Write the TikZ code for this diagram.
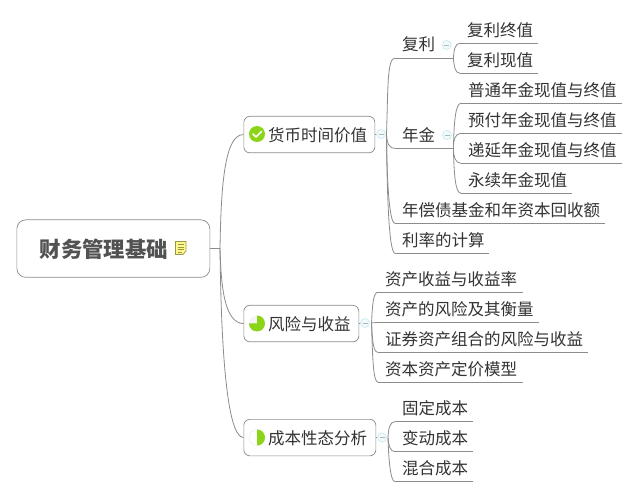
\documentclass[tikz,border=0pt]{standalone}
\usepackage{fontspec}
\setmainfont{Noto Sans CJK SC}
\definecolor{linec}{HTML}{8C8C8C}
\definecolor{txt}{HTML}{333333}
\definecolor{hubc}{HTML}{CDEAF3}
\definecolor{grn}{HTML}{8CD417}
\newcommand{\sepx}{7}
\newcommand{\leaf}[5]{%
  \pgfmathsetmacro\lw{#4-#2-2*\sepx}%
  \node[leaf,text width=\lw pt,anchor=south west] (#1) at (#2,#3) {#5};
  \draw[under] (#1.south west) -- (#1.south east);}
\newcommand{\hubm}[1]{\draw[hub] (#1) circle (4.5);
  \draw[hubm] ([xshift=-2.5pt]#1) -- ([xshift=2.5pt]#1);}
\begin{document}
\begin{tikzpicture}[x=1pt,y=-1pt,
  leaf/.style={inner xsep=7pt,inner ysep=0pt,align=left,text=txt,
    font=\fontsize{16.5}{18}\selectfont,text height=14pt,text depth=7pt},
  under/.style={draw=linec,line width=0.8pt},
  conn/.style={draw=linec,line width=0.8pt},
  hub/.style={draw=hubc,line width=0.7pt,fill=hubc!25},
  hubm/.style={draw=hubc!80!black,line width=0.5pt},
  topic/.style={draw=linec,line width=0.7pt,rounded corners=6pt,inner sep=0pt,anchor=north west},
  topict/.style={anchor=west,inner sep=0pt,text=txt,font=\fontsize{16.5}{18}\selectfont},
  rootn/.style={draw=linec,line width=0.7pt,rounded corners=9pt,inner sep=0pt,anchor=north west}]
\useasboundingbox (0,0) rectangle (638,497);
\fill[white] (0,0) rectangle (638,497);

% root
\node[rootn,minimum width=193pt,minimum height=57.5pt] (root) at (16.5,219.5) {};
\node[anchor=west,inner sep=0pt,text=black!68,font=\fontsize{21.4}{24}\selectfont\bfseries] (roott) at (39.5,249) {财务管理基础};
\coordinate (rj) at (220,248);
\draw[conn] (root.east |- rj) -- (rj);

% main topics
\node[topic,minimum width=131pt,minimum height=36.5pt] (t1) at (243.5,116) {};
\node[topic,minimum width=115pt,minimum height=36.5pt] (t2) at (243.5,305) {};
\node[topic,minimum width=132pt,minimum height=36.5pt] (t3) at (243.5,419) {};
\node[topict] (t1t) at (268,135) {货币时间价值};
\node[topict] (t2t) at (268,324.5) {风险与收益};
\node[topict] (t3t) at (268,438.5) {成本性态分析};

\draw[conn] (rj) .. controls (221,190) and (224,134) .. (t1.west);
\draw[conn] (rj) .. controls (221,285) and (224,323) .. (t2.west);
\draw[conn] (rj) .. controls (221,340) and (226,437) .. (t3.west);

% icons
\fill[grn] (257,134) circle (8);
\draw[white,line width=1.6pt,line cap=round,line join=round] (253,134) -- (256,137) -- (261.5,131.5);
\fill[black!4] (257,323.5) circle (8);
\fill[grn] (257,323.5) -- (257,315.5) arc[start angle=-90,delta angle=270,radius=8] -- cycle;
\draw[black!8,line width=0.4pt] (257,437.5) circle (8);
\fill[grn] (257,429.5) arc[start angle=-90,delta angle=180,radius=8] -- cycle;
\draw[draw=black!45!yellow,fill=yellow!45,line width=0.7pt] (175.5,241.5) -- (186,241.5) -- (186,251) -- (183,254.5) -- (175.5,254.5) -- cycle;
\draw[black!45!yellow,line width=0.5pt] (177.5,244.5) -- (184,244.5) (177.5,247) -- (184,247) (177.5,249.5) -- (184,249.5) (177.5,252) -- (182,252);

% group 1
\coordinate (h1) at (381,134);
\draw[conn] (t1.east) -- (h1);
\leaf{a}{395}{58}{453}{复利}
\leaf{b}{395}{148.3}{453}{年金}
\leaf{c}{395}{223.3}{605}{年偿债基金和年资本回收额}
\leaf{d}{395}{253.3}{489}{利率的计算}
\coordinate (j1) at (386.5,134.5);
\draw[conn] (j1) .. controls (388,90) and (387,58) .. (a.south west);
\draw[conn] (j1) .. controls (387,142) and (388,148.3) .. (b.south west);
\draw[conn] (j1) .. controls (387,180) and (389,223.3) .. (c.south west);
\draw[conn] (j1) .. controls (387,195) and (389,253.3) .. (d.south west);

% group 1a
\leaf{a1}{460}{43.3}{538}{复利终值}
\leaf{a2}{460}{73.3}{538}{复利现值}
\draw[conn] (a.south east) .. controls (454,50) and (455,43.3) .. (a1.south west);
\draw[conn] (a.south east) .. controls (454,66) and (455,73.3) .. (a2.south west);

% group 1b
\leaf{b1}{461}{103.3}{622}{普通年金现值与终值}
\leaf{b2}{461}{133.3}{622}{预付年金现值与终值}
\leaf{b3}{461}{163.3}{622}{递延年金现值与终值}
\leaf{b4}{461}{193.3}{572}{永续年金现值}
\draw[conn] (b.south east) .. controls (454,125) and (455,103.3) .. (b1.south west);
\draw[conn] (b.south east) .. controls (453.5,140) and (455,133.3) .. (b2.south west);
\draw[conn] (b.south east) .. controls (453.5,156) and (455,163.3) .. (b3.south west);
\draw[conn] (b.south east) .. controls (454,172) and (455,193.3) .. (b4.south west);

% group 2
\coordinate (h2) at (365,323);
\draw[conn] (t2.east) -- (h2);
\leaf{e1}{378}{292.3}{523}{资产收益与收益率}
\leaf{e2}{378}{322.3}{539}{资产的风险及其衡量}
\leaf{e3}{378}{352.3}{588}{证券资产组合的风险与收益}
\leaf{e4}{378}{382.3}{523}{资本资产定价模型}
\coordinate (j2) at (371.5,323);
\draw[conn] (j2) .. controls (372.5,305) and (373,292.3) .. (e1.south west);
\draw[conn] (j2) -- (e2.south west);
\draw[conn] (j2) .. controls (372.5,340) and (373,352.3) .. (e3.south west);
\draw[conn] (j2) .. controls (372.5,355) and (373,382.3) .. (e4.south west);

% group 3
\coordinate (h3) at (382,437.5);
\draw[conn] (t3.east) -- (h3);
\leaf{f1}{395}{421.7}{473}{固定成本}
\leaf{f2}{395}{451.7}{473}{变动成本}
\leaf{f3}{395}{481.7}{473}{混合成本}
\coordinate (j3) at (388,437.5);
\draw[conn] (j3) .. controls (388.5,428) and (390,421.7) .. (f1.south west);
\draw[conn] (j3) .. controls (388.5,445) and (390,451.7) .. (f2.south west);
\draw[conn] (j3) .. controls (388.5,455) and (390,481.7) .. (f3.south west);

% collapse markers
\hubm{h1}\hubm{h2}\hubm{h3}
\coordinate (ha) at (446.7,45);
\coordinate (hb) at (447,135);
\hubm{ha}\hubm{hb}
\end{tikzpicture}
\end{document}
